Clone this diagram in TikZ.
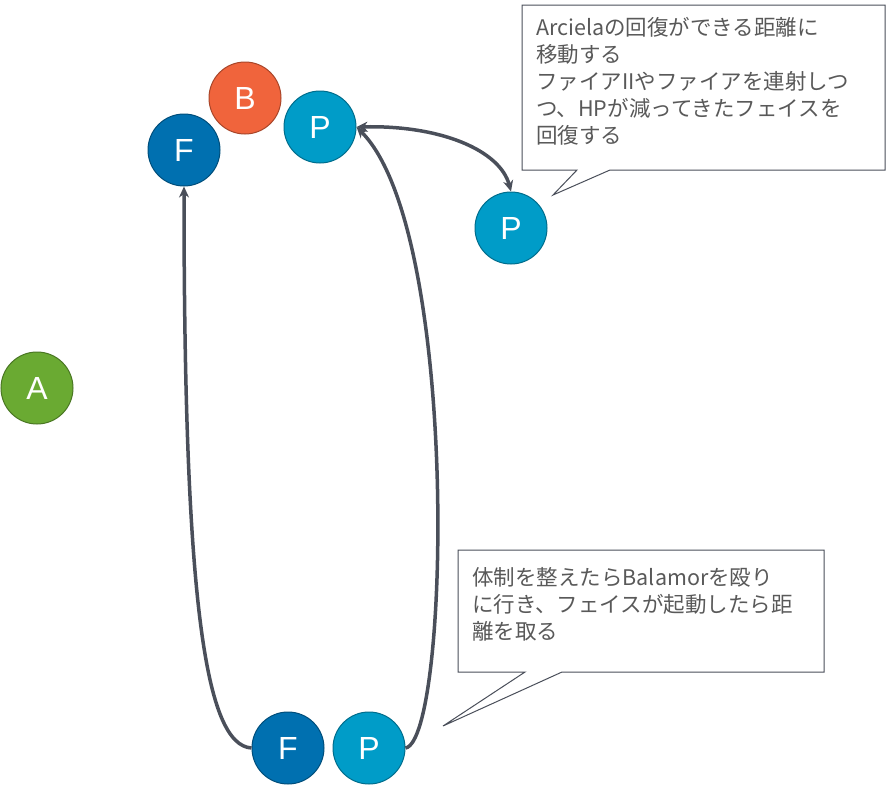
\documentclass[tikz,border=0pt]{standalone}
\usepackage{fontspec}
\setmainfont{Liberation Sans}
\newfontfamily\cjk{Noto Sans CJK JP}
\usetikzlibrary{arrows.meta}
\definecolor{cF}{HTML}{0070B0}
\definecolor{cP}{HTML}{009CC8}
\definecolor{cB}{HTML}{F0643C}
\definecolor{cA}{HTML}{6AAA32}
\definecolor{ln}{HTML}{4A4F5A}
\definecolor{tx}{HTML}{595959}
\begin{document}
\begin{tikzpicture}[x=1pt,y=-1pt,
  tok/.style={circle,minimum size=72pt,inner sep=0pt,text=white,font=\fontsize{32}{32}\selectfont,line width=1pt},
  arr/.style={draw=ln,line width=3.5pt,-{Stealth[length=11pt,width=10pt]}},
  note/.style={draw=ln,line width=1pt,fill=white},
  ntext/.style={anchor=north west,align=left,text=tx,font=\cjk\fontsize{21.5}{27}\selectfont,inner sep=0pt}]
\useasboundingbox (0,0) rectangle (887,796);
\node[tok,fill=cB,draw=cB!70!black] (B) at (245,98) {B};
\node[tok,fill=cF,draw=cF!70!black] (F1) at (184,150) {F};
\node[tok,fill=cP,draw=cP!70!black] (P1) at (320,127) {P};
\node[tok,fill=cP,draw=cP!70!black] (P2) at (511,228) {P};
\node[tok,fill=cA,draw=cA!70!black] (A) at (37,388) {A};
\node[tok,fill=cF,draw=cF!70!black] (F2) at (288,748) {F};
\node[tok,fill=cP,draw=cP!70!black] (P3) at (369,748) {P};
\draw[arr] (F2.west) .. controls (205,745) and (184,600) .. (F1.south);
\draw[arr] (P3.east) .. controls (450,740) and (460,230) .. (P1.east);
\draw[arr,{Stealth[length=11pt,width=10pt]}-{Stealth[length=11pt,width=10pt]}] (P1.east) .. controls (440,125) and (500,150) .. (P2.north);
\coordinate (t1) at (553,195);
\coordinate (t2) at (443,726);
\draw[note] (522,5) -- (885,5) -- (885,170) -- (610,170) -- (t1) -- (577,170) -- (522,170) -- cycle;
\draw[note] (458,550) -- (824,550) -- (824,672) -- (562,672) -- (t2) -- (525,672) -- (458,672) -- cycle;
\node[ntext] (n1) at (536,17) {Arcielaの回復ができる距離に\\移動する\\ファイアIIやファイアを連射しつ\\つ、HPが減ってきたフェイスを\\回復する};
\node[ntext] (n2) at (472,567) {体制を整えたらBalamorを殴り\\に行き、フェイスが起動したら距\\離を取る};
\end{tikzpicture}
\end{document}
